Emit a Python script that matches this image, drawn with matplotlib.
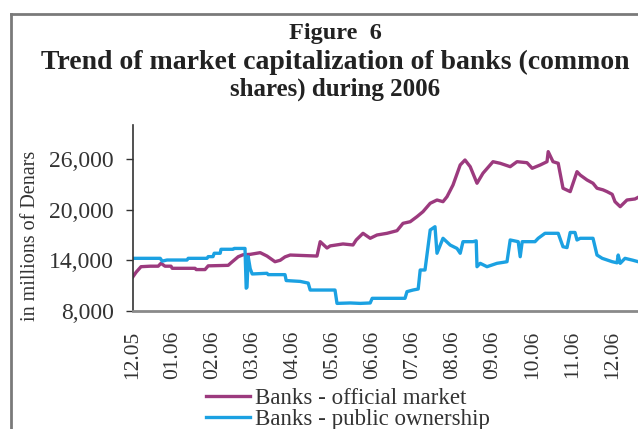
import matplotlib
matplotlib.use("Agg")
import matplotlib.pyplot as plt
from matplotlib.lines import Line2D

# time axis in months since the "12.05" tick
official_x = [0.00, 0.08, 0.20, 0.43, 0.63, 0.70, 0.80, 0.95, 0.98, 1.55, 1.58, 1.80, 1.88,
              2.38, 2.45, 2.63, 2.75, 2.93, 3.18, 3.35, 3.55, 3.68, 3.80, 3.93, 4.60, 4.68,
              4.85, 4.93, 5.25, 5.50, 5.58, 5.75, 5.93, 6.10, 6.35, 6.60, 6.75, 6.93, 7.10,
              7.25, 7.43, 7.60, 7.75, 7.85, 8.00, 8.18, 8.30, 8.43, 8.60, 8.75, 9.00, 9.18,
              9.43, 9.60, 9.85, 9.98, 10.18, 10.35, 10.38, 10.50, 10.63, 10.75, 10.93, 11.10,
              11.18, 11.35, 11.50, 11.60, 11.75, 11.85, 11.98, 12.05, 12.18, 12.35, 12.55, 12.63]
official_v = [12060, 12600, 13240, 13300, 13300, 13640, 13300, 13300, 13050, 13050, 12900, 12900, 13340,
              13400, 13700, 14420, 14650, 14700, 14900, 14500, 13830, 14000, 14400, 14620, 14500, 16200,
              15450, 15700, 15930, 15810, 16400, 17190, 16600, 16990, 17190, 17500, 18370, 18560, 19160,
              19750, 20740, 21130, 20930, 21520, 22900, 25270, 25860, 25070, 23110, 24300, 25660, 25470,
              25070, 25660, 25540, 24880, 25270, 25660, 26850, 25660, 25470, 22520, 22120, 24480,
              24080, 23500, 23110, 22520, 22330, 22120, 21800, 20930, 20340, 21130, 21250, 21450]

public_x = [0.00, 0.68, 0.73, 0.85, 1.35, 1.38, 1.85, 1.88, 2.00, 2.03, 2.18, 2.20, 2.50, 2.53,
            2.80, 2.83, 2.85, 2.88, 2.93, 2.98, 3.35, 3.38, 3.80, 3.83, 4.18, 4.38, 4.43, 5.05,
            5.10, 5.43, 5.68, 5.93, 5.98, 6.80, 6.85, 7.00, 7.13, 7.18, 7.30, 7.43, 7.55, 7.60,
            7.75, 7.93, 8.10, 8.18, 8.25, 8.50, 8.58, 8.60, 8.68, 8.85, 9.10, 9.25, 9.35, 9.43,
            9.63, 9.68, 9.73, 10.05, 10.13, 10.30, 10.63, 10.75, 10.85, 10.93, 11.05, 11.10,
            11.18, 11.50, 11.60, 11.73, 11.98, 12.10, 12.13, 12.18, 12.30, 12.50, 12.63]
public_v = [14230, 14230, 13900, 14030, 14030, 14230, 14230, 14430, 14430, 14830, 14830, 15300, 15300, 15400,
            15400, 10700, 10800, 14430, 13000, 12380, 12460, 12300, 12300, 11600, 11500, 11300, 10480, 10480,
            8900, 8950, 8900, 8950, 9500, 9500, 10290, 10480, 10600, 12850, 12850, 17580, 17970, 14830,
            16600, 15800, 15400, 14830, 16200, 16200, 16300, 13240, 13640, 13240, 13640, 13750, 13830, 16400,
            16200, 14420, 16200, 16200, 16600, 17190, 17190, 15600, 15500, 17290, 17290, 16400,
            16600, 16600, 14620, 14230, 13830, 13700, 14620, 13640, 14230, 14000, 13830]

tick_labels = ["12.05", "01.06", "02.06", "03.06", "04.06", "05.06", "06.06",
               "07.06", "08.06", "09.06", "10.06", "11.06", "12.06"]
y_ticks = [8000, 14000, 20000, 26000]

W, H = 638, 429
fig = plt.figure(figsize=(W / 100, H / 100), dpi=100)
serif = ["Liberation Serif", "DejaVu Serif"]

# border frame (cropped on right and bottom)
fig.add_artist(Line2D([11 / W, 11 / W], [0, 1 - 14 / H], transform=fig.transFigure,
                      color="#7a7a7a", lw=2))
fig.add_artist(Line2D([11 / W, 1], [1 - 14 / H, 1 - 14 / H], transform=fig.transFigure,
                      color="#7a7a7a", lw=2))

left, right, top, bottom = 133, 658, 125, 311
ax = fig.add_axes([left / W, 1 - bottom / H, (right - left) / W, (bottom - top) / H])

purple = "#9c3a7e"
blue = "#1ba1e2"
l1, = ax.plot(official_x, official_v, color=purple, lw=2.4, label="Banks - official market")
l2, = ax.plot(public_x, public_v, color=blue, lw=2.4, label="Banks - public ownership")

ax.set_xlim(0, (right - left) / 40)
ax.set_ylim(8000, 30000)
ax.set_yticks(y_ticks)
ax.set_yticklabels([f"{v:,}" for v in y_ticks], fontfamily=serif, fontsize=17, color="#333333")
ax.set_xticks(range(len(tick_labels)))
ax.set_xticklabels(tick_labels, rotation=90, fontfamily=serif, fontsize=15.5, color="#333333",
                   va="top", ha="center")
ax.tick_params(axis="x", length=0, pad=14)
ax.tick_params(axis="y", length=5, width=1, color="#333333", pad=9)

for s in ["top", "right"]:
    ax.spines[s].set_visible(False)
ax.spines["left"].set_color("#333333")
ax.spines["left"].set_linewidth(1.2)
ax.spines["bottom"].set_color("#8a8a8a")
ax.spines["bottom"].set_linewidth(2)

fig.text(31 / W, 1 - 236 / H, "in millions of Denars", rotation=90, ha="center", va="center",
         fontfamily=serif, fontsize=14.5, color="#333333")

cx = 335 / W
fig.text(cx, 1 - 33 / H, "Figure  6", ha="center", va="center", fontfamily=serif,
         fontweight="bold", fontsize=17.5, color="#222222")
fig.text(cx, 1 - 62 / H, "Trend of market capitalization of banks (common", ha="center",
         va="center", fontfamily=serif, fontweight="bold", fontsize=20, color="#222222")
fig.text(cx, 1 - 89 / H, "shares) during 2006", ha="center", va="center", fontfamily=serif,
         fontweight="bold", fontsize=18, color="#222222")

leg = fig.legend(handles=[l1, l2], loc="center", bbox_to_anchor=(348 / W, 1 - 409 / H),
                 frameon=False, prop={"family": serif, "size": 16.5}, handlelength=1.9,
                 handletextpad=0.2, labelspacing=0.0, borderpad=0)
for t in leg.get_texts():
    t.set_color("#333333")

fig.savefig("out.png", dpi=100)
